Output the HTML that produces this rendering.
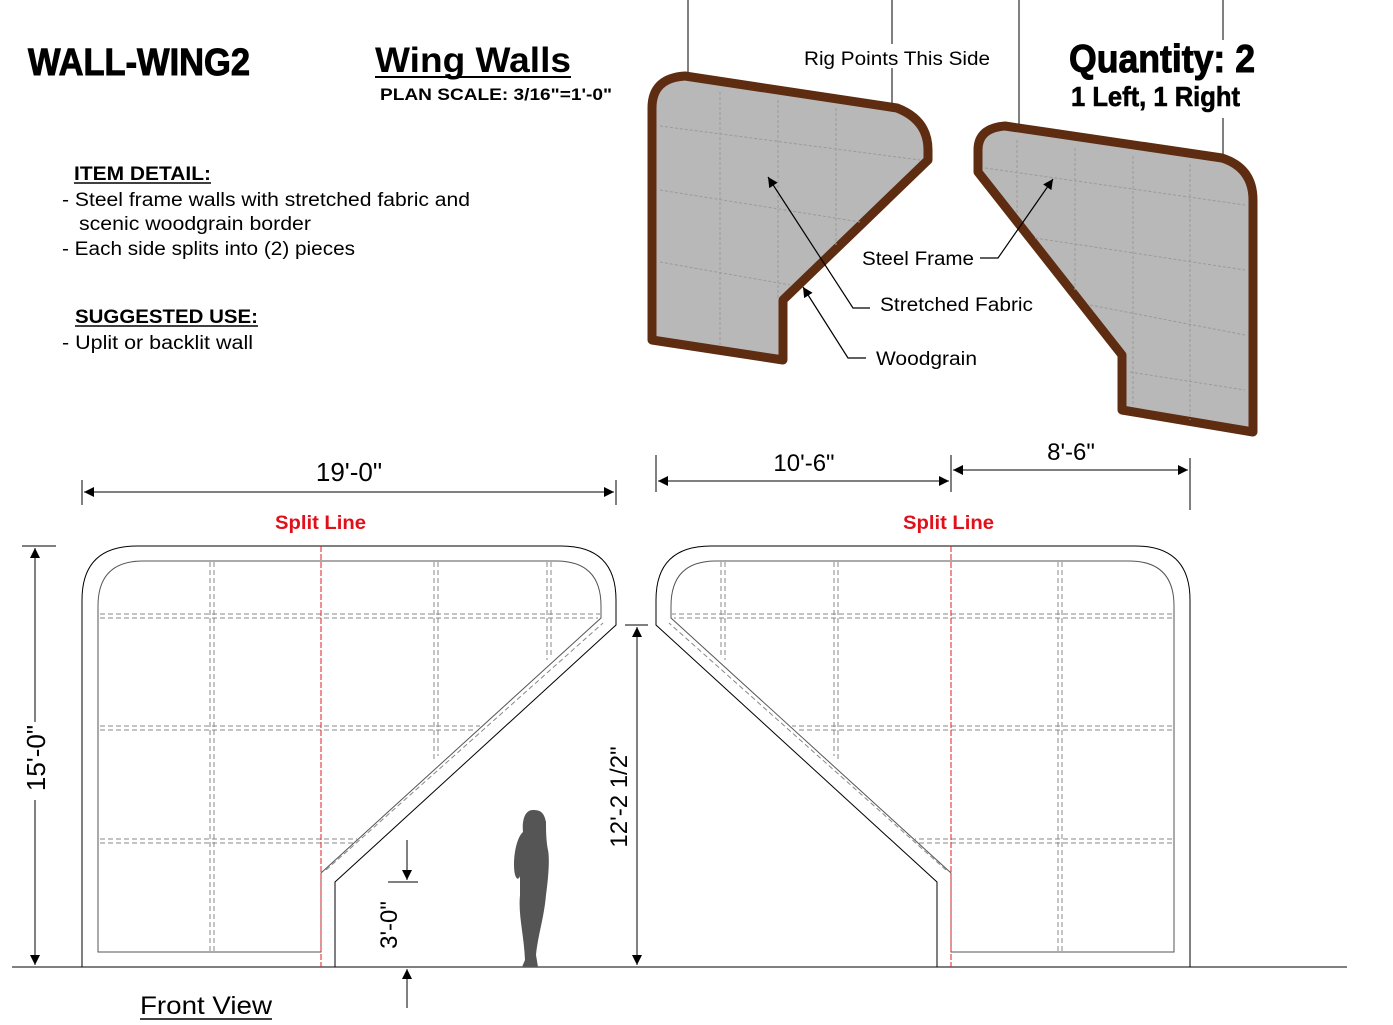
<!DOCTYPE html>
<html><head><meta charset="utf-8"><style>
html,body{margin:0;padding:0;background:#fff;}
svg{display:block;}
.n{font-family:"Liberation Sans",sans-serif;font-weight:bold;}
.s{font-family:"Liberation Sans",sans-serif;}
</style></head><body>
<svg width="1393" height="1025" viewBox="0 0 1393 1025" xmlns="http://www.w3.org/2000/svg">
<defs>
<marker id="a" viewBox="0 0 10 10" refX="10" refY="5" markerWidth="16" markerHeight="10" markerUnits="userSpaceOnUse" orient="auto-start-reverse"><path d="M0,0 L10,5 L0,10 z" fill="#000"/></marker>
<marker id="b" viewBox="0 0 10 10" refX="10" refY="5" markerWidth="18" markerHeight="10" markerUnits="userSpaceOnUse" orient="auto-start-reverse"><path d="M0,0 L10,5 L0,10 z" fill="#000"/></marker>
</defs>

<!-- Titles -->
<text x="28" y="75" class="n" font-size="38" textLength="222" lengthAdjust="spacingAndGlyphs" stroke="#000" stroke-width="1">WALL-WING2</text>
<text x="375" y="72" class="s" font-weight="bold" font-size="35" textLength="196" lengthAdjust="spacingAndGlyphs">Wing Walls</text>
<line x1="375" y1="77" x2="571" y2="77" stroke="#000" stroke-width="2"/>
<text x="380" y="100" class="s" font-weight="bold" font-size="17" textLength="232" lengthAdjust="spacingAndGlyphs">PLAN  SCALE: 3/16"=1'-0"</text>
<text x="1069" y="72" class="n" font-size="39" textLength="186" lengthAdjust="spacingAndGlyphs" stroke="#000" stroke-width="1">Quantity: 2</text>
<text x="1071" y="106" class="n" font-size="28" textLength="169" lengthAdjust="spacingAndGlyphs" stroke="#000" stroke-width="0.6">1 Left, 1 Right</text>

<text x="74" y="180" class="s" font-weight="bold" font-size="19" textLength="137" lengthAdjust="spacingAndGlyphs">ITEM DETAIL:</text>
<line x1="74" y1="183" x2="211" y2="183" stroke="#000" stroke-width="1.5"/>
<text x="62" y="206" class="s" font-size="19" textLength="408" lengthAdjust="spacingAndGlyphs">- Steel frame walls with stretched fabric and</text>
<text x="79" y="230" class="s" font-size="19" textLength="232" lengthAdjust="spacingAndGlyphs">scenic woodgrain border</text>
<text x="62" y="255" class="s" font-size="19" textLength="293" lengthAdjust="spacingAndGlyphs">- Each side splits into (2) pieces</text>
<text x="75" y="323" class="s" font-weight="bold" font-size="19" textLength="183" lengthAdjust="spacingAndGlyphs">SUGGESTED USE:</text>
<line x1="75" y1="326" x2="258" y2="326" stroke="#000" stroke-width="1.5"/>
<text x="62" y="349" class="s" font-size="19" textLength="191" lengthAdjust="spacingAndGlyphs">- Uplit or backlit wall</text>

<!-- Plan view leaders -->
<g stroke="#000" stroke-width="1" fill="none">
<line x1="688" y1="0" x2="688" y2="76"/>
<line x1="892" y1="0" x2="892" y2="44"/>
<line x1="892" y1="68" x2="892" y2="108"/>
<line x1="1019" y1="0" x2="1019" y2="128"/>
<line x1="1223" y1="0" x2="1223" y2="40"/>
<line x1="1223" y1="118" x2="1223" y2="157"/>
</g>
<text x="804" y="65" class="s" font-size="19" textLength="186" lengthAdjust="spacingAndGlyphs">Rig Points This Side</text>

<!-- Plan pieces -->
<path d="M652,108 Q652,78 685,76 L897,108 Q928,120 928,150 L928,160 L783,300 L783,360 L652,340 Z" fill="#b8b8b8" stroke="#5e2c10" stroke-width="9" stroke-linejoin="round"/>
<path d="M978,150 Q978,128 1005,126 L1222,158 Q1253,168 1253,200 L1253,432 L1122,410 L1122,355 L978,172 Z" fill="#b8b8b8" stroke="#5e2c10" stroke-width="9" stroke-linejoin="round"/>
<g stroke="#9a9a9a" stroke-width="1" stroke-dasharray="3,2" fill="none">
<line x1="720" y1="92" x2="720" y2="345"/><line x1="778" y1="100" x2="778" y2="300"/><line x1="836" y1="108" x2="836" y2="245"/>
<line x1="660" y1="126" x2="920" y2="160"/><line x1="660" y1="190" x2="860" y2="222"/><line x1="660" y1="262" x2="790" y2="285"/>
<line x1="1017" y1="140" x2="1017" y2="215"/><line x1="1075" y1="148" x2="1075" y2="290"/><line x1="1133" y1="156" x2="1133" y2="405"/><line x1="1190" y1="164" x2="1190" y2="420"/>
<line x1="985" y1="168" x2="1245" y2="205"/><line x1="1035" y1="238" x2="1245" y2="270"/><line x1="1090" y1="305" x2="1245" y2="335"/><line x1="1130" y1="372" x2="1245" y2="390"/>
</g>
<g stroke="#000" stroke-width="1.2" fill="none">
<polyline points="870,308 853,308 768,177" marker-end="url(#a)"/>
<polyline points="866,358 848,358 803,287" marker-end="url(#a)"/>
<polyline points="980,258 998,258 1053,179" marker-end="url(#a)"/>
</g>
<text x="862" y="265" class="s" font-size="19" textLength="112" lengthAdjust="spacingAndGlyphs">Steel Frame</text>
<text x="880" y="311" class="s" font-size="19" textLength="153" lengthAdjust="spacingAndGlyphs">Stretched Fabric</text>
<text x="876" y="365" class="s" font-size="19" textLength="101" lengthAdjust="spacingAndGlyphs">Woodgrain</text>

<!-- Dimensions top -->
<g stroke="#000" stroke-width="1" fill="none">
<line x1="82" y1="480" x2="82" y2="505"/><line x1="616" y1="480" x2="616" y2="505"/>
<line x1="84" y1="492" x2="614" y2="492" marker-start="url(#b)" marker-end="url(#b)"/>
<line x1="656" y1="455" x2="656" y2="492"/><line x1="951" y1="455" x2="951" y2="492"/><line x1="1190" y1="458" x2="1190" y2="510"/>
<line x1="658" y1="481" x2="949" y2="481" marker-start="url(#b)" marker-end="url(#b)"/>
<line x1="953" y1="470" x2="1188" y2="470" marker-start="url(#b)" marker-end="url(#b)"/>
</g>
<text x="349" y="481" class="s" font-size="26" text-anchor="middle">19'-0"</text>
<text x="804" y="471" class="s" font-size="24" text-anchor="middle">10'-6"</text>
<text x="1071" y="460" class="s" font-size="24" text-anchor="middle">8'-6"</text>
<text x="275" y="529" class="s" font-weight="bold" font-size="19" fill="#e0101a" textLength="91" lengthAdjust="spacingAndGlyphs">Split Line</text>
<text x="903" y="529" class="s" font-weight="bold" font-size="19" fill="#e0101a" textLength="91" lengthAdjust="spacingAndGlyphs">Split Line</text>

<!-- Front view walls -->
<g fill="none" stroke="#000" stroke-width="1">
<path d="M82,967 L82,600 Q82,546 137,546 L561,546 Q616,546 616,600 L616,625 L335,882 L335,967"/>
<path d="M98,952 L98,606 Q98,561 143,561 L556,561 Q601,561 601,606 L601,618 L321,873 L321,952 Z" stroke="#555"/>
<path d="M1190,967 L1190,600 Q1190,546 1135,546 L711,546 Q656,546 656,600 L656,625 L937,882 L937,967"/>
<path d="M1174,952 L1174,606 Q1174,561 1129,561 L716,561 Q671,561 671,606 L671,618 L951,873 L951,952 Z" stroke="#555"/>
<line x1="12" y1="967" x2="1347" y2="967"/>
</g>
<g fill="none" stroke="#888" stroke-width="1" stroke-dasharray="5,3">
<line x1="210" y1="562" x2="210" y2="952"/><line x1="214" y1="562" x2="214" y2="952"/>
<line x1="434" y1="562" x2="434" y2="760"/><line x1="438" y1="562" x2="438" y2="756"/>
<line x1="547" y1="562" x2="547" y2="660"/><line x1="551" y1="562" x2="551" y2="656"/>
<line x1="100" y1="614" x2="600" y2="614"/><line x1="100" y1="618" x2="598" y2="618"/>
<line x1="100" y1="726" x2="480" y2="726"/><line x1="100" y1="730" x2="476" y2="730"/>
<line x1="100" y1="839" x2="357" y2="839"/><line x1="100" y1="843" x2="353" y2="843"/>
<line x1="326" y1="870" x2="603" y2="623"/>
<line x1="1062" y1="562" x2="1062" y2="952"/><line x1="1058" y1="562" x2="1058" y2="952"/>
<line x1="838" y1="562" x2="838" y2="760"/><line x1="834" y1="562" x2="834" y2="756"/>
<line x1="725" y1="562" x2="725" y2="660"/><line x1="721" y1="562" x2="721" y2="656"/>
<line x1="1172" y1="614" x2="672" y2="614"/><line x1="1172" y1="618" x2="674" y2="618"/>
<line x1="1172" y1="726" x2="792" y2="726"/><line x1="1172" y1="730" x2="796" y2="730"/>
<line x1="1172" y1="839" x2="915" y2="839"/><line x1="1172" y1="843" x2="919" y2="843"/>
<line x1="946" y1="870" x2="669" y2="623"/>
</g>
<g stroke="#d22" stroke-width="1" stroke-dasharray="6,2">
<line x1="321" y1="546" x2="321" y2="967"/><line x1="951" y1="546" x2="951" y2="967"/>
</g>

<!-- Side dimensions -->
<g stroke="#000" stroke-width="1" fill="none">
<line x1="22" y1="546" x2="56" y2="546"/><line x1="22" y1="967" x2="56" y2="967"/>
<line x1="35" y1="548" x2="35" y2="722" marker-start="url(#b)"/>
<line x1="35" y1="800" x2="35" y2="965" marker-end="url(#b)"/>
<line x1="625" y1="625" x2="648" y2="625"/>
<line x1="637" y1="627" x2="637" y2="965" marker-start="url(#b)" marker-end="url(#b)"/>
<line x1="388" y1="882" x2="418" y2="882"/>
<line x1="407" y1="840" x2="407" y2="880" marker-end="url(#b)"/>
<line x1="407" y1="1008" x2="407" y2="969" marker-end="url(#b)"/>
</g>
<text transform="translate(45,758) rotate(-90)" class="s" font-size="26" text-anchor="middle">15'-0"</text>
<text transform="translate(627,797) rotate(-90)" class="s" font-size="24" text-anchor="middle">12'-2 1/2"</text>
<text transform="translate(397,925) rotate(-90)" class="s" font-size="24" text-anchor="middle">3'-0"</text>

<!-- person -->
<path d="M533,810 C524,810 522,822 523,832 C518,836 514,850 514,865 C514,878 518,882 520,876 L520,895 C518,915 524,935 525,960 L522,967 L538,967 L536,955 C538,935 544,918 546,895 C548,880 550,860 548,850 C546,840 546,828 546,822 C544,812 540,810 533,810 Z" fill="#555"/>

<text x="140" y="1014" class="s" font-size="25" textLength="132" lengthAdjust="spacingAndGlyphs">Front View</text>
<line x1="140" y1="1019" x2="272" y2="1019" stroke="#000" stroke-width="1.5"/>
</svg>
</body></html>
